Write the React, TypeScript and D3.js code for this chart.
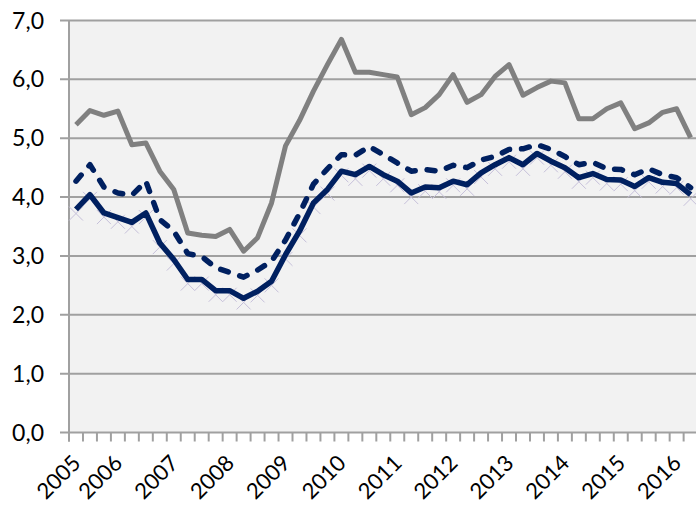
import React from "react";
import * as d3 from "d3";

const xLabels: string[] = [
  "2005", "", "", "2006", "", "", "", "2007", "", "", "", "2008", "", "", "", "2009",
  "", "", "", "2010", "", "", "", "2011", "", "", "", "2012", "", "", "", "2013",
  "", "", "", "2014", "", "", "", "2015", "", "", "", "2016", "",
];

const grayValues: number[] = [
  5.23, 5.47, 5.39, 5.46, 4.89, 4.92, 4.44, 4.13, 3.39, 3.35, 3.33, 3.45, 3.08, 3.31, 3.9,
  4.87, 5.3, 5.8, 6.25, 6.68, 6.12, 6.12, 6.08, 6.04, 5.4, 5.52, 5.74, 6.08, 5.61, 5.74,
  6.05, 6.25, 5.73, 5.86, 5.97, 5.94, 5.33, 5.33, 5.5, 5.6, 5.16, 5.26, 5.44, 5.5, 5.01,
];

const solidValues: number[] = [
  3.79, 4.04, 3.73, 3.65, 3.57, 3.73, 3.22, 2.94, 2.6, 2.6, 2.41, 2.41, 2.28, 2.4, 2.57,
  3.02, 3.42, 3.9, 4.13, 4.44, 4.38, 4.52, 4.38, 4.27, 4.07, 4.17, 4.16, 4.27, 4.21, 4.41,
  4.55, 4.67, 4.55, 4.74, 4.61, 4.5, 4.33, 4.4, 4.3, 4.29, 4.18, 4.33, 4.25, 4.23, 4.04,
];

const dashedValues: number[] = [
  4.27, 4.55, 4.17, 4.07, 4.03, 4.27, 3.62, 3.42, 3.04, 2.99, 2.8, 2.72, 2.64, 2.76, 2.91,
  3.27, 3.72, 4.22, 4.48, 4.72, 4.71, 4.86, 4.72, 4.58, 4.44, 4.47, 4.44, 4.54, 4.5, 4.63,
  4.69, 4.81, 4.82, 4.89, 4.81, 4.69, 4.55, 4.59, 4.48, 4.47, 4.38, 4.48, 4.38, 4.33, 4.16,
];

const markerValues: number[] = [
  3.72, 3.97, 3.66, 3.58, 3.5, 3.66, 3.15, 2.87, 2.53, 2.53, 2.34, 2.34, 2.21, 2.33, 2.5,
  2.95, 3.35, 3.83, 4.06, 4.37, 4.31, 4.45, 4.31, 4.2, 4.0, 4.1, 4.09, 4.2, 4.14, 4.34,
  4.48, 4.6, 4.48, 4.67, 4.54, 4.43, 4.26, 4.33, 4.23, 4.22, 4.11, 4.26, 4.18, 4.16, 3.97,
];

const yTicks: number[] = [0, 1, 2, 3, 4, 5, 6, 7];

const W = 696;
const H = 506;
const left = 69;
const right = 697.6;
const top = 20.5;
const bottom = 432.5;
const FONT = "Lato, 'Open Sans', sans-serif";

export default function App() {
  const idx = d3.range(xLabels.length);
  const x = d3.scaleBand<number>().domain(idx).range([left, right]).padding(0);
  const y = d3.scaleLinear().domain([0, 7]).range([bottom, top]);
  const cx = (i: number) => (x(i) as number) + x.bandwidth() / 2;

  const line = d3
    .line<number>()
    .x((_, i) => cx(i))
    .y((v) => y(v))
    .curve(d3.curveLinear);

  const tickXs = idx.map((i) => x(i) as number);

  return (
    <svg
      width={W}
      height={H}
      style={{ position: "absolute", left: 0, top: 0, background: "#fff" }}
    >
      <rect x={left} y={top} width={right - left} height={bottom - top} fill="#f2f2f2" />
      {yTicks.map((t) => (
        <line key={"g" + t} x1={60} x2={W} y1={y(t)} y2={y(t)} stroke="#a0a0a0" strokeWidth={2} />
      ))}
      <line x1={left} x2={left} y1={top} y2={bottom + 9} stroke="#a0a0a0" strokeWidth={2} />
      {tickXs.map((tx, i) => (
        <line key={"t" + i} x1={tx} x2={tx} y1={bottom} y2={bottom + 9} stroke="#a0a0a0" strokeWidth={2} />
      ))}
      {yTicks.map((t) => (
        <text
          key={"yl" + t}
          x={44}
          y={y(t)}
          dy="0.35em"
          textAnchor="end"
          fontFamily={FONT}
          fontSize={23}
          fill="#000"
        >
          {d3.format(".1f")(t).replace(".", ",")}
        </text>
      ))}
      {idx.map((i) =>
        xLabels[i] ? (
          <text
            key={"xl" + i}
            transform={`translate(${cx(i) + 6},${bottom + 32}) rotate(-45)`}
            textAnchor="end"
            fontFamily={FONT}
            fontSize={22}
            fill="#000"
          >
            {xLabels[i]}
          </text>
        ) : null
      )}
      <g stroke="#c6c0da" strokeWidth={1}>
        {markerValues.map((v, i) => (
          <g key={"m" + i} transform={`translate(${cx(i)},${y(v)})`}>
            <line x1={-7} y1={-7} x2={7} y2={7} />
            <line x1={-7} y1={7} x2={7} y2={-7} />
          </g>
        ))}
      </g>
      <path d={line(grayValues) || ""} fill="none" stroke="#808080" strokeWidth={5} strokeLinejoin="round" />
      <path
        d={line(dashedValues) || ""}
        fill="none"
        stroke="#002060"
        strokeWidth={5.5}
        strokeDasharray="8,12"
        strokeLinecap="round"
        strokeLinejoin="round"
      />
      <path d={line(solidValues) || ""} fill="none" stroke="#002060" strokeWidth={5.5} strokeLinejoin="round" />
    </svg>
  );
}
